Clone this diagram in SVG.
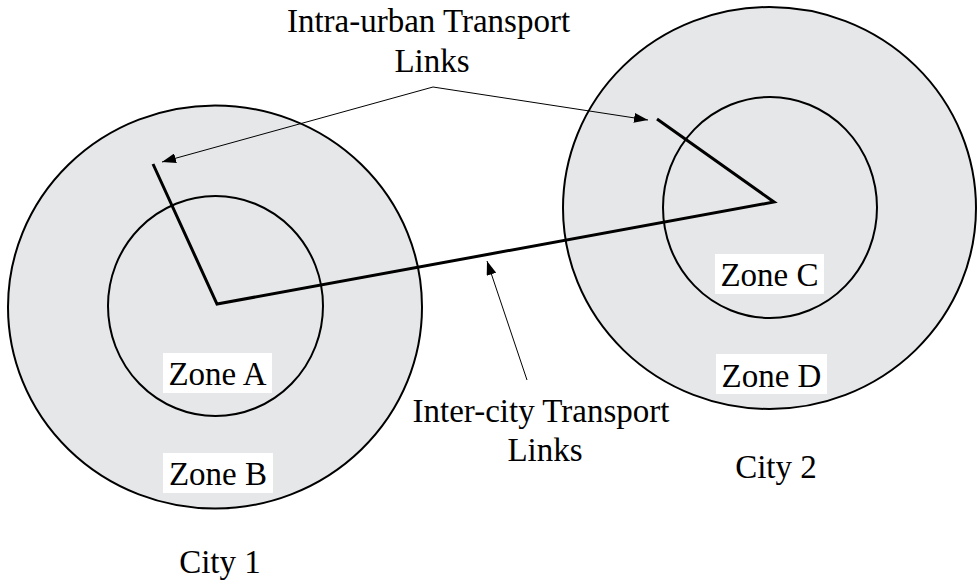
<svg xmlns="http://www.w3.org/2000/svg" width="977" height="582" viewBox="0 0 977 582">
  <style>
    .zone { fill: #e6e7e8; stroke: #000; stroke-width: 2; }
    .lbl { font-family: "Liberation Serif", "Times New Roman", serif; font-size: 33px; fill: #000; text-anchor: middle; }
    .tag { fill: #fff; stroke: none; }
    .link { fill: none; stroke: #000; stroke-width: 3; stroke-linejoin: miter; }
    .ptr { fill: none; stroke: #000; stroke-width: 1; }
  </style>
  <defs>
    <marker id="arrow" viewBox="0 0 14 10" refX="14" refY="5" markerWidth="14" markerHeight="10" markerUnits="userSpaceOnUse" orient="auto">
      <path d="M0,0 L14,5 L0,10 Z" fill="#000"/>
    </marker>
  </defs>
  <rect width="977" height="582" fill="#fff"/>

  <!-- City 1: outer and inner zones -->
  <g id="city1">
    <ellipse class="zone" cx="215" cy="307" rx="207" ry="201.5"/>
    <ellipse class="zone" cx="215.5" cy="306" rx="107.5" ry="110"/>
    <g id="zoneA">
      <rect class="tag" x="163" y="353" width="109" height="40"/>
      <text class="lbl" x="217.5" y="385">Zone A</text>
    </g>
    <g id="zoneB">
      <rect class="tag" x="163" y="453" width="110" height="40"/>
      <text class="lbl" x="218" y="485">Zone B</text>
    </g>
    <text class="lbl" x="220" y="573">City 1</text>
  </g>

  <!-- City 2: outer and inner zones -->
  <g id="city2">
    <ellipse class="zone" cx="769.5" cy="208" rx="206.5" ry="201"/>
    <ellipse class="zone" cx="770" cy="207.5" rx="107" ry="110.5"/>
    <g id="zoneC">
      <rect class="tag" x="715" y="254" width="109" height="40"/>
      <text class="lbl" x="769.5" y="286">Zone C</text>
    </g>
    <g id="zoneD">
      <rect class="tag" x="716" y="354" width="111" height="40"/>
      <text class="lbl" x="771.5" y="387">Zone D</text>
    </g>
    <text class="lbl" x="776" y="478">City 2</text>
  </g>

  <!-- Transport links and pointers -->
  <g id="connectors">
    <polyline class="link" points="153,164 217,304 774,202 657,119"/>
    <line class="ptr" x1="433" y1="87" x2="162" y2="162" marker-end="url(#arrow)"/>
    <line class="ptr" x1="433" y1="87" x2="648" y2="120" marker-end="url(#arrow)"/>
    <line class="ptr" x1="527" y1="380" x2="487" y2="261" marker-end="url(#arrow)"/>
  </g>

  <g id="intraLabel">
    <text class="lbl" x="428.5" y="32">Intra-urban Transport</text>
    <text class="lbl" x="432" y="72">Links</text>
  </g>
  <g id="interLabel">
    <text class="lbl" x="541" y="422">Inter-city Transport</text>
    <text class="lbl" x="545" y="461">Links</text>
  </g>
</svg>
